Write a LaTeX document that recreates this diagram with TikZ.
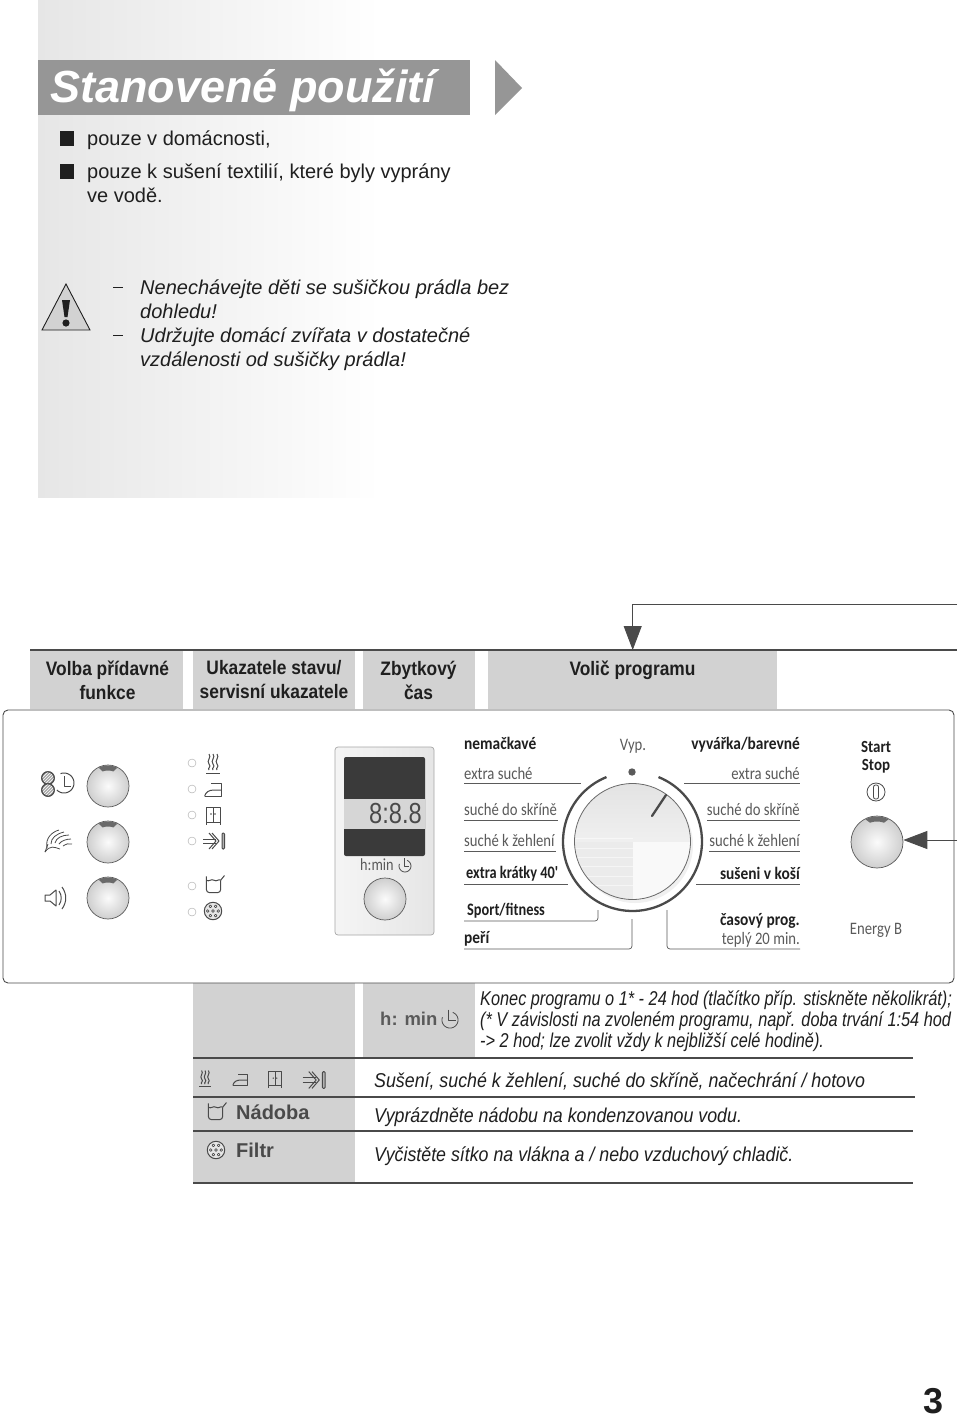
\documentclass[tikz,border=0pt]{standalone}
\usepackage{fontspec}
\usepackage{tikz}
\usetikzlibrary{arrows.meta,calc,positioning}
\setmainfont{Liberation Sans}
\newfontfamily\panelfont[FakeStretch=0.84]{Carlito}
\newfontfamily\panelboldfont[FakeStretch=0.88]{Carlito}
\newfontfamily\panelnarrowfont[FakeStretch=0.82]{Carlito}
\newfontfamily\notefont[FakeStretch=0.815]{Liberation Sans}
\newfontfamily\rowfont[FakeStretch=0.89]{Liberation Sans}
\newfontfamily\tabfont[FakeStretch=0.89]{Liberation Sans}
\definecolor{DPInk}{HTML}{1F1F1F}
\definecolor{DPDark}{HTML}{4A4A4A}
\definecolor{DPText}{HTML}{5A5A5A}
\definecolor{DPMark}{HTML}{6A6A6A}
\definecolor{DPBar}{HTML}{969696}
\definecolor{DPTab}{HTML}{D2D2D2}
\definecolor{DPShade}{HTML}{E6E6E6}
\tikzset{
  bodytext/.style={anchor=base west, text=DPInk, inner sep=0, font=\fontsize{20}{24}\selectfont},
  warntext/.style={anchor=base west, text=DPInk, inner sep=0, font=\fontsize{20}{24}\selectfont\itshape},
  tablabel/.style={align=center, text=DPInk, inner sep=0, font=\tabfont\fontsize{19.5}{24}\selectfont\bfseries},
  tabbox/.style={anchor=north west, fill=DPTab, inner sep=0},
  paneltext/.style={text=DPText, inner sep=0, font=\panelfont\fontsize{17.5}{19}\selectfont},
  panelbold/.style={text=DPInk, inner sep=0, font=\panelboldfont\fontsize{17.5}{19}\selectfont\bfseries},
  panelnarrow/.style={text=DPInk, inner sep=0, font=\panelnarrowfont\fontsize{17.5}{19}\selectfont\bfseries},
  notetext/.style={anchor=base west, text=DPInk, inner sep=0, font=\notefont\fontsize{20}{22}\selectfont\itshape},
  rowtext/.style={anchor=base west, text=DPInk, inner sep=0, font=\rowfont\fontsize{20}{22}\selectfont\itshape},
  rowlabel/.style={anchor=base west, text=DPDark, inner sep=0, font=\fontsize{20}{22}\selectfont\bfseries},
  knob/.style={circle, draw=DPText, line width=0.7pt, inner color=gray!3, outer color=gray!38, minimum size=42, inner sep=0},
  led/.style={circle, draw=gray!70, fill=white, minimum size=8, inner sep=0},
  rule/.style={draw=DPDark, line width=1.1pt},
  thinrule/.style={draw=DPText, line width=0.7pt, rounded corners=3},
  icon/.style={draw=DPDark, line width=1pt, line join=round},
  pointer/.style={draw=DPDark, line width=0.9pt, -{Triangle[length=24,width=18]}},
}
\newcommand{\knobmark}[3]{%
  \fill[DPMark] plot[domain=63:117, samples=12] ({#1+(#3-0.5)*cos(\x)},{#2-(#3-0.5)*sin(\x)})
    -- plot[domain=110:70, samples=8] ({#1+(#3-5.5)*cos(\x)},{#2-(#3-5.5)*sin(\x)}) -- cycle;
}
\newcommand{\iconsteam}[3]{%
  \begin{scope}[shift={(#1,#2)},scale=#3]
    \foreach \wx in {-4,0,4}
      \draw[icon] (\wx,-10) .. controls (\wx+3,-7) and (\wx-3,-3) .. (\wx,0) .. controls (\wx+3,3) and (\wx-2,4) .. (\wx,6);
    \draw[icon] (-7,9) -- (7,9);
  \end{scope}
}
\newcommand{\iconiron}[3]{%
  \begin{scope}[shift={(#1,#2)},scale=#3]
    \draw[icon] (-8,6) -- (8,6) -- (8,-6) -- (-2,-6);
    \draw[icon] (-8,6) .. controls (-7,2) and (-4,0) .. (1,0) -- (8,0);
  \end{scope}
}
\newcommand{\iconcabinet}[3]{%
  \begin{scope}[shift={(#1,#2)},scale=#3]
    \draw[icon] (-7,-8) rectangle (7,7);
    \draw[icon] (0,-8) -- (0,7) (-7,7) -- (-7,10) (7,7) -- (7,10);
    \fill[DPDark] (-2,-1) circle (0.8) (2,-1) circle (0.8);
  \end{scope}
}
\newcommand{\iconarrow}[3]{%
  \begin{scope}[shift={(#1,#2)},scale=#3]
    \draw[icon] (-10,-2) -- (3,-2) (-10,2) -- (3,2);
    \draw[icon] (-1,-8) -- (6,0) -- (-1,8) (-4,-8) -- (3,0) -- (-4,8);
    \draw[icon, fill=gray!60, rounded corners=1] (9,-8) rectangle (11.5,8);
  \end{scope}
}
\newcommand{\iconjug}[3]{%
  \begin{scope}[shift={(#1,#2)},scale=#3]
    \draw[icon, rounded corners=3] (-8,-9) -- (-8,8) -- (7,8) -- (7,-5);
    \draw[icon] (-8,-5) .. controls (-5,-3) and (-3,-7) .. (0,-5) .. controls (3,-3) and (5,-7) .. (7,-5) -- (11,-10);
  \end{scope}
}
\newcommand{\iconfilter}[3]{%
  \begin{scope}[shift={(#1,#2)},scale=#3]
    \draw[icon, fill=gray!20] (0,0) circle (9.2);
    \draw[icon, fill=white, line width=0.7pt] (0,0) circle (1.4);
    \foreach \wa in {0,60,...,300}
      \draw[icon, fill=white, line width=0.7pt] ({5.6*cos(\wa)},{5.6*sin(\wa)}) circle (1.4);
  \end{scope}
}
\newcommand{\iconclock}[3]{%
  \begin{scope}[shift={(#1,#2)},scale=#3]
    \draw[icon, line width=0.8pt] plot[domain=70:-200, samples=30] ({7*cos(\x)},{-7*sin(\x)});
    \draw[icon, line width=0.8pt] (-1,-9) -- (-1,0) -- (5,0);
  \end{scope}
}
\begin{document}
\begin{tikzpicture}[x=1pt,y=-1pt]
  \useasboundingbox (0,0) rectangle (960,1416);
  \fill[white] (0,0) rectangle (960,1416);

  % left page
  \shade[left color=DPShade, right color=white] (38,0) rectangle (380,497);
  \fill[DPBar] (38,60) rectangle (470,115);
  \fill[DPBar] (495,60) -- (522,88) -- (495,115) -- cycle;
  \node[anchor=base west, text=white, inner sep=0, font=\fontsize{45}{48}\selectfont\bfseries\itshape] (titleText) at (50,102) {Stanovené použití};
  \fill[DPInk] (60,131) rectangle (74,146);
  \fill[DPInk] (60,164) rectangle (74,179);
  \node[bodytext] (useHome) at (87,145) {pouze v domácnosti,};
  \node[bodytext] (useWash) at (87,178) {pouze k sušení textilií, které byly vyprány};
  \node[bodytext] (useWater) at (87,202) {ve vodě.};

  \draw[draw=DPInk, fill=DPTab, line width=0.9pt] (66,284) -- (90,330) -- (42,330) -- cycle;
  \fill[DPInk] (62,300) -- (70,300) -- (67.5,317) -- (64.5,317) -- cycle;
  \fill[DPInk] (66,323) circle (3.6);
  \draw[DPInk, line width=1pt] (113,287) -- (123,287) (113,335) -- (123,335);
  \node[warntext] (warnA) at (140,294) {Nenechávejte děti se sušičkou prádla bez};
  \node[warntext] (warnB) at (140,318) {dohledu!};
  \node[warntext] (warnC) at (140,342) {Udržujte domácí zvířata v dostatečné};
  \node[warntext] (warnD) at (140,366) {vzdálenosti od sušičky prádla!};

  % tabs above the panel
  \node[tabbox, minimum width=153, minimum height=59] (tabExtra) at (30,650) {};
  \node[tabbox, minimum width=162, minimum height=59] (tabStatus) at (193,650) {};
  \node[tabbox, minimum width=112, minimum height=59] (tabTime) at (363,650) {};
  \node[tabbox, minimum width=289, minimum height=59] (tabProgram) at (488,650) {};
  \node[tablabel] (lblExtra) at (107.5,680) {Volba přídavné\\funkce};
  \node[tablabel] (lblStatus) at (274,680) {Ukazatele stavu/\\servisní ukazatele};
  \node[tablabel] (lblTime) at (418.5,680) {Zbytkový\\čas};
  \node[tablabel] (lblProgram) at (632.5,670) {Volič programu};
  \draw[rule] (30,650) -- (957,650);

  % table under the panel
  \fill[DPTab] (193,983) rectangle (355,1183);
  \fill[DPTab] (363,983) rectangle (475,1058);
  \draw[rule] (193,1058) -- (913,1058);
  \draw[rule] (193,1097) -- (915,1097);
  \draw[rule] (193,1131) -- (913,1131);
  \draw[rule] (193,1183) -- (913,1183);
  \node[anchor=base west, text=DPText, inner sep=0, font=\fontsize{18.5}{22}\selectfont\bfseries] (lblHmin) at (380,1025) {h: min};
  \iconclock{450}{1020}{1.15}
  \node[notetext] (noteA) at (480,1005) {Konec programu o 1* - 24 hod (tlačítko příp. stiskněte několikrát);};
  \node[notetext] (noteB) at (480,1026) {(* V závislosti na zvoleném programu, např. doba trvání 1:54 hod};
  \node[notetext] (noteC) at (480,1047) {-> 2 hod; lze zvolit vždy k nejbližší celé hodině).};
  \iconsteam{205}{1079}{0.85}
  \iconiron{240}{1080}{0.9}
  \iconcabinet{275}{1079}{0.9}
  \iconarrow{313}{1080}{1.05}
  \iconjug{216}{1112}{0.95}
  \iconfilter{216}{1150}{0.95}
  \node[rowlabel] (lblTank) at (236,1119) {Nádoba};
  \node[rowlabel] (lblFilter) at (236,1157) {Filtr};
  \node[rowtext] (rowDry) at (374,1087) {Sušení, suché k žehlení, suché do skříně, načechrání / hotovo};
  \node[rowtext] (rowTank) at (374,1122) {Vyprázdněte nádobu na kondenzovanou vodu.};
  \node[rowtext] (rowFilter) at (374,1161) {Vyčistěte sítko na vlákna a / nebo vzduchový chladič.};

  % control panel
  \draw[draw=DPDark, fill=white, line width=0.9pt, rounded corners=5] (3,710) rectangle (954,983);

  \foreach \ky/\kname in {786/knobA,842/knobB,898/knobC} {
    \node[knob] (\kname) at (108,\ky) {};
    \knobmark{108}{\ky}{21}
  }
  \foreach \hy in {778,790} {
    \draw[icon, fill=gray!70] (48,\hy) circle (6.3);
    \begin{scope}
      \clip (48,\hy) circle (6.3);
      \foreach \hs in {-9,-6,...,9}
        \draw[white, line width=0.6pt] (48+\hs-7,\hy+7) -- (48+\hs+7,\hy-7);
    \end{scope}
    \draw[icon] (48,\hy) circle (6.3);
  }
  \begin{scope}[shift={(64,783)}]
    \draw[icon] plot[domain=110:-135, samples=30] ({10*cos(\x)},{-10*sin(\x)});
    \draw[icon] (0,-7) -- (0,3) -- (7,3);
  \end{scope}
  \begin{scope}[shift={(58,841)}]
    \draw[icon, line width=0.8pt] (-13,11) .. controls (-8,4) and (-4,6) .. (2,8);
    \draw[icon, line width=0.8pt] (-13,11) -- (-10,3);
    \draw[icon, line width=0.8pt] (-11,7) .. controls (-13,-3) and (-6,-9) .. (1,-11);
    \draw[icon, line width=0.8pt] (-7,3) .. controls (-7,-3) and (-2,-7) .. (6,-9);
    \draw[icon, line width=0.8pt] (-3,2) .. controls (-2,-3) and (4,-6) .. (11,-6);
    \draw[icon, line width=0.8pt] (1,3) .. controls (3,0) and (8,-2) .. (13,-2);
    \draw[icon, line width=0.8pt] (5,5) .. controls (8,3) and (11,2) .. (14,3);
  \end{scope}
  \begin{scope}[shift={(55,898)}]
    \draw[icon] (-10,-3) -- (-5,-3) -- (1,-8) -- (1,8) -- (-5,3) -- (-10,3) -- cycle;
    \draw[icon] (4,-7) .. controls (7,-3) and (7,3) .. (4,7);
    \draw[icon] (7,-11) .. controls (12,-4) and (12,4) .. (7,11);
  \end{scope}

  \foreach \ly/\lname in {763/ledA,789/ledB,815/ledC,841/ledD,886/ledE,912/ledF}
    \node[led] (\lname) at (192,\ly) {};
  \iconsteam{213}{764}{1.0}
  \iconiron{213}{790}{1.05}
  \iconcabinet{213}{815}{1.0}
  \iconarrow{213}{841}{1.0}
  \iconjug{214}{885}{0.95}
  \iconfilter{213}{911}{0.95}

  % display block
  \draw[draw=gray!70, left color=gray!8, right color=gray!20, line width=0.7pt, rounded corners=3] (335,747) rectangle (434,935);
  \fill[DPInk!88, rounded corners=2] (344,757) rectangle (425,856);
  \fill[gray!32] (344,799) rectangle (425,829);
  \node[text=DPDark, inner sep=0, font=\notefont\fontsize{29}{30}\selectfont] (lcdDigits) at (395.5,814) {8:8.8};
  \node[anchor=base west, text=DPText, inner sep=0, font=\panelfont\fontsize{17}{19}\selectfont] (lcdUnit) at (360,870) {h:min};
  \iconclock{405}{866}{0.85}
  \node[knob] (knobTime) at (385,899) {};

  % left dial labels
  \node[panelbold, anchor=base west] (progA) at (464,749.5) {nemačkavé};
  \node[paneltext, anchor=base west] (progB) at (464,779) {extra suché};
  \node[paneltext, anchor=base west] (progC) at (464,815) {suché do skříně};
  \node[paneltext, anchor=base west] (progD) at (464,846) {suché k žehlení};
  \node[panelnarrow, anchor=base west] (progE) at (466,878.5) {extra krátky 40'};
  \node[panelnarrow, anchor=base west] (progF) at (467,915.5) {Sport/fitness};
  \node[panelbold, anchor=base west] (progG) at (464,943) {peří};
  \draw[thinrule] (464,783) -- (581,783);
  \draw[thinrule] (464,820) -- (558,820);
  \draw[thinrule] (464,851) -- (556,851);
  \draw[thinrule] (464,884) -- (568,884);
  \draw[thinrule] (464,921) -- (598,921) -- (598,910);
  \draw[thinrule] (464,949) -- (632,949) -- (632,919);

  % right dial labels
  \node[paneltext, anchor=base] (progOff) at (633,750) {Vyp.};
  \node[panelbold, anchor=base east] (progH) at (800,749.5) {vyvářka/barevné};
  \node[paneltext, anchor=base east] (progI) at (800,779) {extra suché};
  \node[paneltext, anchor=base east] (progJ) at (800,815) {suché do skříně};
  \node[paneltext, anchor=base east] (progK) at (800,846) {suché k žehlení};
  \node[panelbold, anchor=base east] (progL) at (800,879) {sušeni v koší};
  \node[panelbold, anchor=base east] (progM) at (800,925.5) {časový prog.};
  \node[paneltext, anchor=base east] (progN) at (800,944) {teplý 20 min.};
  \draw[thinrule] (684,783) -- (800,783);
  \draw[thinrule] (707,820) -- (800,820);
  \draw[thinrule] (709,851) -- (800,851);
  \draw[thinrule] (696,884) -- (800,884);
  \draw[thinrule] (800,949) -- (667,949) -- (667,910);

  % dial
  \fill[DPText] (632,772) circle (3.7);
  \draw[DPDark, line width=2.3pt] plot[domain=68:-248, samples=90] ({632.5+69.5*cos(\x)},{841.5-69.5*sin(\x)});
  \fill[gray!12] (635,845) circle (58);
  \begin{scope}
    \clip (632.5,841.5) circle (58);
    \shade[top color=gray!22, bottom color=gray!12] (574,783) rectangle (691,842);
    \fill[gray!16] (574,842) rectangle (632.5,900);
    \foreach \sy in {838,848,857,866,876,885}
      \draw[white, line width=0.7pt, opacity=0.5] (574,\sy) -- (632.5,\sy);
    \fill[gray!5] (632.5,841.5) rectangle (691,900);
  \end{scope}
  \draw[DPMark, line width=0.8pt] (632.5,841.5) circle (58);
  \draw[DPDark, line width=2.3pt, line cap=round] (652,816) -- (666,795);

  % start button
  \node[panelbold, align=center, anchor=base, font=\panelboldfont\fontsize{17}{18}\selectfont\bfseries] (lblStart) at (876,770) {Start\\Stop};
  \draw[icon, line width=0.8pt] (876,792) circle (9);
  \draw[icon, line width=0.8pt, rounded corners=2] (873.5,785) rectangle (878.5,799);
  \node[knob, minimum size=52] (knobStart) at (877,842) {};
  \knobmark{877}{842}{26}
  \node[paneltext, anchor=base] (lblEnergy) at (876,934) {Energy B};

  % connectors from the right edge
  \coordinate (progIn) at (957,604);
  \coordinate (startIn) at (957,840);
  \draw[pointer] (progIn) -| (tabProgram.north);
  \draw[pointer] (startIn) -- (knobStart.east |- startIn);

  \node[anchor=base east, text=DPInk, inner sep=0, font=\fontsize{36}{38}\selectfont\bfseries] (pageNum) at (944,1413) {3};
\end{tikzpicture}
\end{document}
